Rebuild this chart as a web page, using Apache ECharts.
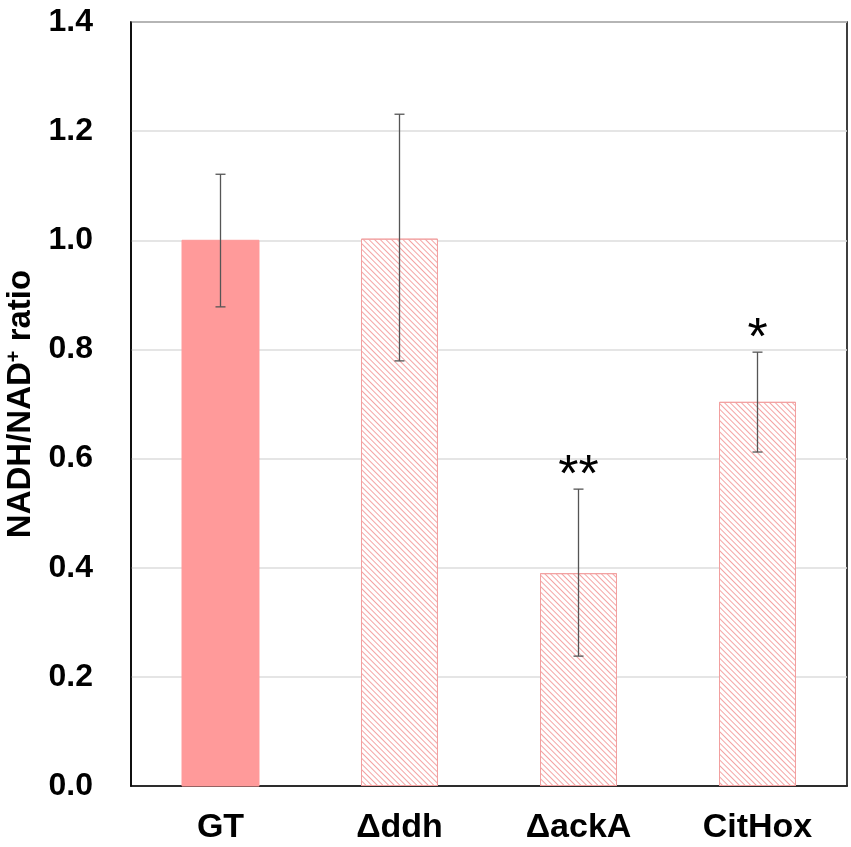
<!DOCTYPE html>
<html lang="en">
<head>
    <meta charset="UTF-8">
    <title>NADH/NAD+ ratio</title>
    <script src="https://cdn.jsdelivr.net/npm/echarts@6/dist/echarts.min.js"></script>
    <style>
        html, body { margin: 0; padding: 0; background: #fff; }
        #chart { width: 851px; height: 847px; }
    </style>
</head>
<body>
<div id="chart"></div>
<script>
    // data
    const strains = ['GT', 'Δddh', 'ΔackA', 'CitHox'];
    const ratioMean = [1.0, 1.003, 0.39, 0.704];
    const ratioLow = [0.878, 0.779, 0.238, 0.612];
    const ratioHigh = [1.121, 1.231, 0.544, 0.795];
    const marks = ['', '', '**', '*'];
    const yTicks = [0, 0.2, 0.4, 0.6, 0.8, 1.0, 1.2, 1.4];

    const pink = '#ff9a9a';
    const font = 'Liberation Sans';
    const hatch = {
        symbol: 'rect',
        color: '#f4a4a4',
        dashArrayX: [1, 0],
        dashArrayY: [1, 3],
        rotation: Math.PI / 4
    };

    const barData = ratioMean.map((v, i) => {
        if (i === 0) return {value: v, itemStyle: {color: pink, borderColor: pink}};
        return {value: v, itemStyle: {color: '#fff', borderColor: '#f2a0a0', borderWidth: 1, decal: hatch}};
    });

    const errData = strains.map((s, i) => [i, ratioLow[i], ratioHigh[i]]);
    const starData = strains.map((s, i) => ({value: [i, ratioHigh[i]], label: {formatter: marks[i]}}));

    const chart = echarts.init(document.getElementById('chart'));
    chart.setOption({
        animation: false,
        grid: {
            left: 131, right: 4, top: 22, bottom: 61,
            outerBoundsMode: 'none',
            show: true, borderColor: '#000', borderWidth: 1.5
        },
        xAxis: {
            type: 'category',
            data: strains,
            axisLine: {show: true, lineStyle: {color: '#000', width: 1.5}},
            axisTick: {show: false},
            axisLabel: {
                margin: 25, color: '#000', fontSize: 34, fontWeight: 'bold',
                fontFamily: font
            }
        },
        yAxis: {
            type: 'value',
            min: yTicks[0],
            max: yTicks[yTicks.length - 1],
            interval: 0.2,
            name: '{b|NADH/NAD}{s|+}{b| ratio}',
            nameLocation: 'middle',
            nameGap: 93,
            nameTextStyle: {
                rich: {
                    b: {fontSize: 33, fontWeight: 'bold', color: '#000', fontFamily: font},
                    s: {fontSize: 20, fontWeight: 'bold', color: '#000', fontFamily: font, verticalAlign: 'top', padding: [0, 0, 14, 0]}
                }
            },
            axisLine: {show: true, lineStyle: {color: '#000', width: 1.5}},
            axisTick: {show: false},
            splitLine: {lineStyle: {color: '#dcdcdc', width: 1.5}},
            axisLabel: {
                margin: 38, color: '#000', fontSize: 32, fontWeight: 'bold',
                fontFamily: font,
                formatter: v => v.toFixed(1)
            }
        },
        series: [
            {
                type: 'bar',
                barWidth: '43%',
                data: barData,
                z: 2
            },
            {
                type: 'custom',
                z: 5,
                data: errData,
                renderItem: function (params, api) {
                    const x = api.coord([api.value(0), 0])[0];
                    const lo = api.coord([api.value(0), api.value(1)])[1];
                    const hi = api.coord([api.value(0), api.value(2)])[1];
                    const cap = 5;
                    const style = {stroke: '#555', lineWidth: 1.3};
                    return {
                        type: 'group',
                        children: [
                            {type: 'line', shape: {x1: x, y1: lo, x2: x, y2: hi}, style: style},
                            {type: 'line', shape: {x1: x - cap, y1: lo, x2: x + cap, y2: lo}, style: style},
                            {type: 'line', shape: {x1: x - cap, y1: hi, x2: x + cap, y2: hi}, style: style}
                        ]
                    };
                }
            },
            {
                type: 'scatter',
                symbolSize: 1,
                itemStyle: {opacity: 0},
                z: 6,
                data: starData,
                label: {
                    show: true,
                    position: 'top',
                    distance: -14,
                    color: '#000',
                    fontSize: 52,
                    fontFamily: font,
                    opacity: 1
                }
            }
        ]
    });
</script>
</body>
</html>
